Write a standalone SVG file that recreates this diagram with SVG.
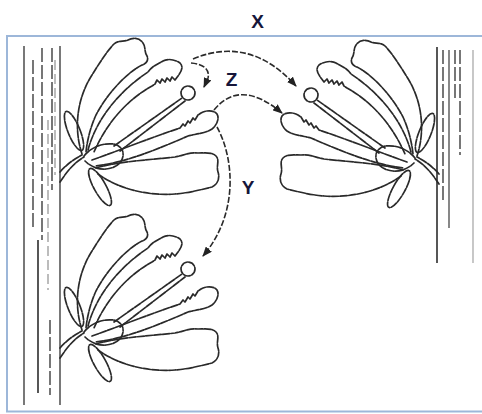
<svg xmlns="http://www.w3.org/2000/svg" xmlns:xlink="http://www.w3.org/1999/xlink" width="482" height="414" viewBox="0 0 482 414">
<style>
.ln{fill:none;stroke:#2a2a2a;stroke-width:1.7;stroke-dasharray:7 1.4;stroke-linecap:round;stroke-linejoin:round}
.stem{fill:none;stroke:#6a6a6a;stroke-width:1.8}
.stemd{fill:none;stroke:#555;stroke-width:1.6;stroke-dasharray:14 3}
.stemf{fill:none;stroke:#999;stroke-width:1.3;stroke-dasharray:10 4}
.arr{fill:none;stroke:#2a2a2a;stroke-width:1.6;stroke-dasharray:6 2;marker-end:url(#ah)}
.lbl{font-family:"Liberation Sans",Arial,sans-serif;font-weight:bold;font-size:19px;fill:#16163a;text-anchor:middle}
</style>
<defs>
<marker id="ah" markerUnits="userSpaceOnUse" markerWidth="10" markerHeight="8" refX="9" refY="4" orient="auto">
<path d="M0,0 L10,4 L0,8 Z" fill="#222"/>
</marker>
<g id="flower">
<path class="ln" d="M60,182 C68,170 75,162 84,157"/>
<path class="ln" d="M60,172 C66,165 74,159 82,155"/>
<ellipse class="ln" cx="74" cy="131" rx="6" ry="21" transform="rotate(-22 74 131)"/>
<ellipse class="ln" cx="100" cy="187" rx="6" ry="21" transform="rotate(-29 100 187)"/>
<path class="ln" d="M82,154 C74,130 76,100 92,75 C100,62 108,50 114,44 C118,40 124,42 128,40 C133,37 140,38 143,43 C146,47 144,52 147,56 C149,60 146,64 142,65 C128,72 108,92 96,115 C90,128 87,142 86,152"/>
<path class="ln" d="M88,150 C96,120 118,92 148,72 C152,66 158,64 163,61 C168,58 176,60 180,63 C184,67 181,72 178,76 L175,80 l-3,-3 l-2,4 l-3,-3 l-2,4 l-3,-3 l-2,4 l-3,-3 l-2,4 L152,86 C130,98 108,120 94,152"/>
<path class="ln" d="M84,156 C92,146 104,143 113,144 C120,145 124,150 123,156 C122,163 116,168 106,169 C98,170 90,166 85,161"/>
<path class="ln" d="M114,146 L182,98 M120,151 L185,101"/>
<circle class="ln" cx="188" cy="93" r="7"/>
<path class="ln" d="M92,160 C120,150 150,138 180,128 l3,-4 l2,2 l3,-5 l2,2 l3,-5 l2,2 l3,-5 l3,-2 C206,110 214,110 217,114 C220,119 216,126 212,129 C206,133 196,134 188,136 C160,148 128,162 96,166"/>
<path class="ln" d="M96,168 C120,161 150,160 175,157 C185,155 190,152 198,153 C206,153 212,152 216,156 C220,160 216,166 218,172 C220,178 218,184 212,187 C200,190 188,193 175,194 C150,196 120,190 98,174"/>
</g>
</defs>
<rect x="7" y="36" width="490" height="375.5" fill="#fff" stroke="#9db7d9" stroke-width="2"/>
<g id="stem-left">
<line class="stem" x1="24" y1="46" x2="24" y2="405"/>
<line class="stem" x1="60" y1="46" x2="60" y2="405"/>
<line class="stemd" x1="33" y1="60" x2="33" y2="230"/>
<line class="stem" x1="38" y1="240" x2="38" y2="393" style="stroke:#444"/>
<line class="stemd" x1="42" y1="48" x2="42" y2="240"/>
<line class="stemf" x1="48" y1="120" x2="48" y2="290"/>
<line class="stemd" x1="52" y1="48" x2="52" y2="190"/>
<line class="stemd" x1="50" y1="320" x2="50" y2="395"/>
<line class="stemf" x1="55" y1="60" x2="55" y2="175"/>
</g>
<g id="stem-right">
<line class="stem" x1="437" y1="47" x2="437" y2="263" style="stroke:#444"/>
<line class="stemd" x1="443" y1="50" x2="443" y2="200"/>
<line class="stem" x1="449" y1="50" x2="449" y2="228" style="stroke:#555;stroke-width:1.4"/>
<line class="stemd" x1="455" y1="50" x2="455" y2="100"/>
<line class="stemd" x1="460" y1="50" x2="460" y2="155"/>
<line class="stem" x1="473" y1="50" x2="473" y2="263" style="stroke:#aaa;stroke-width:1.3"/>
</g>
<g id="flower-top-left"><use xlink:href="#flower" href="#flower"/></g>
<g id="flower-top-right"><use xlink:href="#flower" href="#flower" transform="translate(499,2) scale(-1,1)"/></g>
<g id="flower-bottom-left"><use xlink:href="#flower" href="#flower" transform="translate(0,176)"/></g>
<g id="connectors">
<path class="arr" d="M191,63 C204,64 210,70 208,78 L204,87"/>
<path class="arr" d="M193,59 Q250,35 296,86"/>
<path class="arr" d="M214,110 Q240,78 282,113"/>
<path class="arr" d="M217,127 C235,160 238,215 203,256"/>
</g>
<text class="lbl" x="257.5" y="28">X</text>
<text class="lbl" x="231.5" y="86">Z</text>
<text class="lbl" x="248" y="194">Y</text>
</svg>
